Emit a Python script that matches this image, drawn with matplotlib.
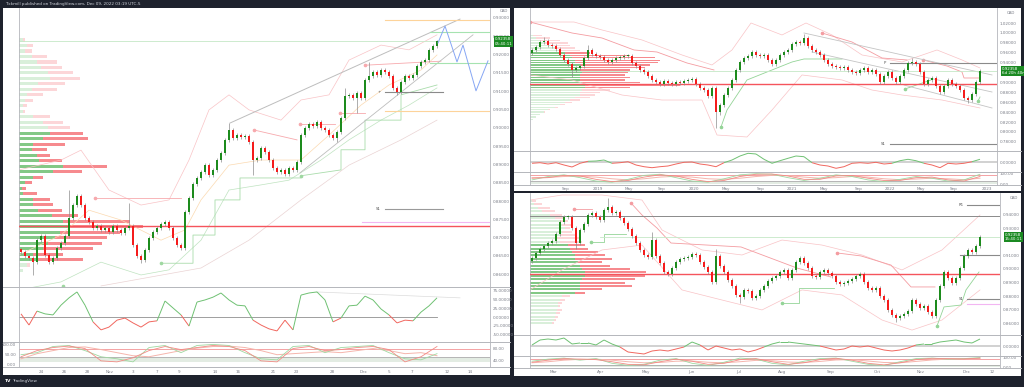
import numpy as np
import matplotlib.pyplot as plt
from matplotlib.collections import LineCollection
from matplotlib.patches import Rectangle
from matplotlib.lines import Line2D

W, H = 1024, 387
BG = '#1e222d'
GREEN = '#1d8b1d'
RED = '#f51c1c'
WICK = '#8d8d8d'
AXC = '#7b7e88'
SEP = '#b4b6bb'

# ---------------- data: left panel (4h) ----------------
left_close = [0.8661, 0.8650, 0.8644, 0.8633, 0.8693, 0.8704, 0.8653, 0.8633, 0.8644, 0.8672,
              0.8685, 0.8704, 0.8754, 0.8789, 0.8814, 0.8789, 0.8754, 0.8743, 0.8726, 0.8732,
              0.8721, 0.8726, 0.8715, 0.8732, 0.8721, 0.8713, 0.8726, 0.8732, 0.8680, 0.8650,
              0.8639, 0.8666, 0.8699, 0.8715, 0.8726, 0.8737, 0.8743, 0.8726, 0.8699, 0.8680,
              0.8672, 0.8770, 0.8808, 0.8847, 0.8863, 0.8879, 0.8898, 0.8871, 0.8885, 0.8912,
              0.8931, 0.8967, 0.8994, 0.8972, 0.8980, 0.8975, 0.8978, 0.8961, 0.8912, 0.8918,
              0.8945, 0.8934, 0.8912, 0.8890, 0.8879, 0.8885, 0.8874, 0.8890, 0.8885, 0.8907,
              0.8980, 0.9000, 0.9010, 0.9005, 0.9016, 0.9000, 0.8994, 0.8980, 0.8972, 0.8989,
              0.9027, 0.9087, 0.9090, 0.9081, 0.9095, 0.9081, 0.9131, 0.9142, 0.9152, 0.9144,
              0.9158, 0.9152, 0.9142, 0.9109, 0.9098, 0.9125, 0.9142, 0.9136, 0.9144, 0.9169,
              0.9180, 0.9185, 0.9213, 0.9224, 0.92358]
left_open0 = 0.8668
left_hi_idx = [12, 27, 52, 81, 87]
left_hi_val = [0.8830, 0.8795, 0.9013, 0.9109, 0.9180]
left_lo_idx = [3, 30, 58, 79, 84, 94]
left_lo_val = [0.8598, 0.8631, 0.8871, 0.8960, 0.9040, 0.9090]

left_osc = [9, -23, 17, 9, 6, 34, 55, 72, 34, -14, -37, -29, -9, -3, -17, -29, -14, -11,
            46, 26, 6, -26, 43, 49, 57, 69, 49, 34, 32, -9, -23, -34, -40, -9, -37, 63,
            69, 72, 49, -14, -3, 32, 34, 60, 49, 23, 6, -17, -9, -11, 14, 32, 55]

left_st_fast = [50, 60, 90, 95, 70, 40, 30, 15, 85, 95, 60, 95, 100, 95, 60, 30, 25, 90,
                95, 60, 85, 90, 95, 60, 30, 25, 55]
left_st_sig = [40, 70, 85, 92, 80, 20, 15, 35, 70, 90, 75, 85, 95, 90, 70, 20, 15, 80,
               90, 70, 75, 85, 90, 75, 15, 40, 90]
left_st_slow = [30, 55, 70, 85, 88, 75, 60, 45, 40, 55, 70, 82, 90, 92, 85, 70, 50, 55,
                60, 65, 60, 70, 80, 70, 55, 60, 45]

left_prof_lvl = [0.8610, 0.8625, 0.8640, 0.8655, 0.8670, 0.8685, 0.8700, 0.8715, 0.8730,
                 0.8745, 0.8760, 0.8775, 0.8790, 0.8805, 0.8820, 0.8835, 0.8850, 0.8865,
                 0.8880, 0.8895, 0.8910, 0.8925, 0.8940, 0.8955, 0.8970, 0.8985, 0.9000,
                 0.9015, 0.9030, 0.9045, 0.9060, 0.9075, 0.9090, 0.9105, 0.9120, 0.9135,
                 0.9150, 0.9165, 0.9180, 0.9195, 0.9210, 0.9225, 0.9240]
left_prof_buy = [4, 8, 19, 14, 24, 29, 36, 41, 48, 44, 33, 19, 14, 14, 4, 3, 6, 14, 34, 44,
                 20, 18, 13, 14, 24, 31, 29, 24, 14, 4, 4, 6, 8, 13, 19, 31, 29, 22, 18, 13,
                 6, 8, 4]
left_prof_tot = [4, 11, 64, 44, 74, 83, 88, 101, 124, 111, 59, 43, 34, 31, 18, 7, 13, 24, 63,
                 88, 43, 31, 28, 46, 69, 64, 51, 44, 31, 6, 8, 14, 24, 38, 46, 61, 54, 43, 38,
                 28, 13, 14, 6]
left_va = (0.8640, 0.8985)

left_up_x = [-0.5, 10, 15, 22, 30, 37, 42, 47, 52, 57, 65, 70, 77, 82, 90, 97, 104]
left_up_y = [0.8885, 0.8912, 0.8939, 0.8830, 0.8789, 0.8803, 0.8912, 0.9049, 0.9090, 0.9049,
             0.9021, 0.9076, 0.9090, 0.9185, 0.9226, 0.9213, 0.9254]
left_dn_x = [-0.5, 10, 20, 30, 37, 45, 52, 60, 67, 75, 82, 90, 97, 104]
left_dn_y = [0.8557, 0.8579, 0.8633, 0.8598, 0.8612, 0.8693, 0.8830, 0.8844, 0.8857, 0.8912,
             0.8967, 0.9021, 0.9062, 0.9109]
left_mid_x = [-0.5, 10, 17, 25, 35, 41, 45, 52, 60, 70, 77, 85, 92, 100, 104]
left_mid_y = [0.8653, 0.8707, 0.8775, 0.8748, 0.8693, 0.8721, 0.8803, 0.8898, 0.8912, 0.8912,
              0.8980, 0.9062, 0.9117, 0.9158, 0.9199]
left_ma_x = [20, 45, 57, 70, 82, 95, 104]
left_ma_y = [0.8568, 0.8617, 0.8693, 0.8803, 0.8898, 0.8967, 0.9021]
left_res_x = [[18.5, 40], [58.25, 69], [69.75, 78.5], [79.75, 86], [86, 105]]
left_res_y = [[0.8807, 0.8807], [0.8994, 0.8967], [0.9010, 0.9010], [0.9040, 0.9040], [0.9171, 0.9182]]
left_sup_x = [35, 43, 43, 48.5, 48.5, 54.75, 54.75, 70, 70, 80, 80, 86, 86, 95, 95, 104]
left_sup_y = [0.8630, 0.8630, 0.8707, 0.8707, 0.8803, 0.8803, 0.8863, 0.8863, 0.8869, 0.8885,
              0.8940, 0.8940, 0.9021, 0.9021, 0.9090, 0.9117]
left_proj_x = [104.25, 106, 109, 110.5, 113.75, 116.75]
left_proj_y = [0.9232, 0.9278, 0.9180, 0.9226, 0.9101, 0.9183]
left_dates_x = [5, 10.75, 16.5, 22.25, 28, 34, 39.5, 48.5, 54.25, 63, 68.75, 77.75, 85.75,
                92, 97.75, 106.5, 112.25]
left_dates = ['24', '26', '28', 'Nov', '3', '7', '9', '14', '16', '21', '23', '28', 'Dec',
              '5', '7', '12', '14']

# ---------------- data: right top (weekly) ----------------
wk_close = [0.9657, 0.9717, 0.9818, 0.9838, 0.9758, 0.9737, 0.9677, 0.9556, 0.9455, 0.9374,
            0.9253, 0.9293, 0.9333, 0.9495, 0.9657, 0.9576, 0.9535, 0.9515, 0.9455, 0.9414,
            0.9455, 0.9495, 0.9515, 0.9535, 0.9545, 0.9394, 0.9333, 0.9253, 0.9212, 0.9131,
            0.9051, 0.9010, 0.8970, 0.9030, 0.8990, 0.8970, 0.9010, 0.8990, 0.9030, 0.9051,
            0.9071, 0.8970, 0.8889, 0.8848, 0.8727, 0.8889, 0.8404, 0.8545, 0.8747, 0.8889,
            0.9051, 0.9253, 0.9414, 0.9495, 0.9535, 0.9616, 0.9556, 0.9535, 0.9556, 0.9455,
            0.9374, 0.9455, 0.9556, 0.9616, 0.9657, 0.9778, 0.9818, 0.9798, 0.9899, 0.9737,
            0.9657, 0.9616, 0.9556, 0.9455, 0.9374, 0.9333, 0.9313, 0.9293, 0.9313, 0.9253,
            0.9212, 0.9192, 0.9253, 0.9293, 0.9212, 0.9253, 0.9172, 0.9010, 0.9131, 0.9212,
            0.9091, 0.9010, 0.9131, 0.9253, 0.9394, 0.9414, 0.9374, 0.9212, 0.8970, 0.9051,
            0.9091, 0.8929, 0.8808, 0.8929, 0.9051, 0.8970, 0.8929, 0.8848, 0.8687, 0.8646,
            0.8768, 0.9010, 0.92358]
wk_open0 = 0.9600
wk_hi_idx = [3, 14, 68, 95]
wk_hi_val = [0.9920, 0.9750, 0.9980, 0.9495]
wk_lo_idx = [10, 46, 47, 109]
wk_lo_val = [0.9111, 0.8080, 0.8350, 0.8580]

wk_osc = [-0.13, -0.07, -0.2, -0.07, -0.3, -0.5, -0.13, 0.07, 0.1, 0.2, -0.13, -0.07, 0.03,
          -0.3, -0.47, -0.57, -0.47, -0.4, -0.2, -0.03, 0.0, -0.2, -0.3, -0.47, -0.07, 0.2,
          0.6, 0.87, 0.8, 0.27, -0.13, 0.13, 0.37, 0.6, 0.53, -0.07, -0.3, -0.4, -0.63,
          -0.47, -0.13, -0.07, -0.13, -0.03, -0.2, -0.13, 0.13, 0.27, 0.13, -0.13, -0.3,
          -0.57, -0.13, -0.2, -0.13, 0.03, 0.27]
wk_st_fast = [40, 70, 85, 60, 30, 20, 45, 80, 90, 60, 30, 20, 50, 85, 95, 90, 60, 35, 55, 85,
              70, 40, 25, 45, 70, 55, 30, 40, 90]
wk_st_sig = [55, 60, 80, 75, 45, 25, 35, 65, 85, 75, 45, 25, 35, 70, 90, 92, 75, 45, 45, 75,
             80, 55, 35, 35, 60, 65, 40, 30, 70]
wk_st_slow = [60, 62, 70, 72, 65, 50, 40, 50, 65, 72, 65, 50, 45, 55, 70, 80, 78, 65, 55, 60,
              70, 65, 50, 42, 48, 55, 50, 42, 55]

wk_prof_lvl = [0.825, 0.830, 0.835, 0.840, 0.845, 0.850, 0.855, 0.860, 0.865, 0.870, 0.875,
               0.880, 0.885, 0.890, 0.895, 0.900, 0.905, 0.910, 0.915, 0.920, 0.925, 0.930,
               0.935, 0.940, 0.945, 0.950, 0.955, 0.960, 0.965, 0.970, 0.975, 0.980, 0.985,
               0.990, 0.995]
wk_prof_buy = [3, 6, 10, 14, 18, 25, 30, 35, 40, 45, 50, 50, 52, 55, 55, 52, 50, 50, 50, 52,
               50, 52, 50, 45, 45, 42, 40, 35, 30, 25, 20, 15, 10, 6, 3]
wk_prof_tot = [3, 6, 10, 15, 20, 28, 35, 42, 50, 60, 65, 70, 80, 100, 150, 110, 95, 100, 95,
               98, 100, 115, 120, 128, 130, 125, 100, 60, 50, 45, 40, 38, 30, 20, 12]
wk_va = (0.890, 0.960)

wk_up_x = [-0.5, 10.5, 17.5, 27.5, 37.5, 45, 50, 54.75, 62.5, 68.5, 75, 82.5, 92.5, 101.25, 107.5, 112]
wk_up_y = [1.0222, 1.0222, 1.0061, 0.9859, 0.9556, 0.9354, 0.9657, 1.0202, 0.9960, 1.0202,
           0.9960, 0.9556, 0.9414, 0.9657, 0.9455, 0.9293]
wk_dn_x = [-0.5, 10, 22.5, 32.5, 42.5, 46.25, 53.75, 60, 67.5, 77.5, 85, 92.5, 102.5, 112]
wk_dn_y = [0.9152, 0.9051, 0.8747, 0.8646, 0.8646, 0.7939, 0.7899, 0.8444, 0.9152, 0.9051,
           0.8848, 0.8747, 0.8646, 0.8485]
wk_res_x = [[-0.5, 10, 17.5, 25.5, 31.25, 38.75, 45.5], [72.5, 80, 87.5, 93.75],
            [97.75, 103.75, 107.5, 108, 112]]
wk_res_y = [[1.0222, 1.0, 0.9899, 0.9657, 0.9616, 0.9394, 0.9253], [1.0, 0.9818, 0.9495, 0.9455],
            [0.9455, 0.9333, 0.9212, 0.9091, 0.9091]]
wk_sup_x = [[47.25, 48.75, 51.25, 53.75, 60, 65, 68, 77.5], [93.25, 99.75], [111.5, 112]]
wk_sup_y = [[0.8101, 0.8444, 0.8747, 0.9051, 0.9253, 0.9414, 0.9475, 0.9475], [0.8869, 0.9051],
            [0.8626, 0.8707]]
wk_chan_x = [[68, 115], [70, 115], [93, 115]]
wk_chan_y = [[1.0, 0.9152], [0.9616, 0.8808], [0.8949, 0.8485]]
wk_dates_x = [8.5, 16.5, 24.25, 32.5, 40.5, 48.5, 57.25, 65, 73, 81.75, 89.5, 97.25, 105.5, 113.75]
wk_dates = ['Sep', '2019', 'May', 'Sep', '2020', 'May', 'Sep', '2021', 'May', 'Sep', '2022',
            'May', 'Sep', '2023']

# ---------------- data: right bottom (daily) ----------------
d_close = [0.9081, 0.9118, 0.9147, 0.9169, 0.9191, 0.9206, 0.9257, 0.9346, 0.9382, 0.9385,
           0.9301, 0.9191, 0.9287, 0.9331, 0.9397, 0.9412, 0.9382, 0.9360, 0.9434, 0.9456,
           0.9412, 0.9419, 0.9375, 0.9338, 0.9294, 0.9243, 0.9191, 0.9140, 0.9103, 0.9088,
           0.9213, 0.9096, 0.9044, 0.8978, 0.8963, 0.9007, 0.9051, 0.9074, 0.9081, 0.9088,
           0.9110, 0.9103, 0.9051, 0.9015, 0.8978, 0.8904, 0.9096, 0.9022, 0.8978, 0.8919,
           0.8875, 0.8809, 0.8794, 0.8846, 0.8838, 0.8787, 0.8801, 0.8846, 0.8875, 0.8912,
           0.8934, 0.8949, 0.8978, 0.8993, 0.8934, 0.8993, 0.9051, 0.9081, 0.9044, 0.9007,
           0.8949, 0.8941, 0.8978, 0.8993, 0.8971, 0.8949, 0.8904, 0.8890, 0.8897, 0.8912,
           0.8926, 0.8949, 0.8963, 0.8904, 0.8860, 0.8846, 0.8860, 0.8801, 0.8772, 0.8699,
           0.8662, 0.8640, 0.8654, 0.8669, 0.8691, 0.8772, 0.8743, 0.8713, 0.8728, 0.8684,
           0.8654, 0.8772, 0.8875, 0.8978, 0.8934, 0.8897, 0.8934, 0.9007, 0.9096, 0.9140,
           0.9125, 0.9169, 0.92358]
d_open0 = 0.9060
d_hi_idx = [19, 30, 46]
d_hi_val = [0.9522, 0.9270, 0.9150]
d_lo_idx = [11, 52, 91]
d_lo_val = [0.9150, 0.8750, 0.8610]

d_osc = [0.1, 0.6, 0.7, 0.6, 0.8, 0.2, 0.3, 0.3, 0.1, 0.6, 0.2, -0.1, -0.6, -0.7, -0.8, -0.5,
         -0.4, -0.5, -0.3, -0.1, 0.4, 0.1, -0.4, 0.0, -0.2, -0.4, -0.3, -0.6, -0.4, -0.1, 0.2,
         0.4, 0.4, 0.3, 0.2, 0.1, 0.0, -0.2, -0.4, -0.3, 0.0, -0.1, 0.0, -0.2, -0.4, -0.5,
         -0.4, -0.2, 0.1, 0.2, 0.2, 0.4, 0.5, 0.6, 0.4, 0.3, 0.7]
d_st_fast = [60, 80, 90, 70, 85, 40, 20, 30, 70, 85, 40, 20, 50, 90, 80, 40, 25, 60, 85, 90,
             60, 30, 20, 55, 85, 90, 80, 85, 95]
d_st_sig = [50, 70, 85, 80, 75, 55, 30, 25, 55, 80, 60, 30, 40, 75, 85, 55, 30, 45, 75, 88,
            70, 40, 25, 45, 75, 88, 85, 82, 90]
d_st_slow = [45, 55, 70, 78, 80, 70, 55, 45, 48, 60, 62, 50, 45, 55, 68, 65, 52, 48, 58, 72,
             75, 62, 48, 45, 58, 72, 80, 82, 85]

d_prof_lvl = [0.8600, 0.8625, 0.8650, 0.8675, 0.8700, 0.8725, 0.8750, 0.8775, 0.8800, 0.8825,
              0.8850, 0.8875, 0.8900, 0.8925, 0.8950, 0.8975, 0.9000, 0.9025, 0.9050, 0.9075,
              0.9100, 0.9125, 0.9150, 0.9175, 0.9200, 0.9225, 0.9250, 0.9275, 0.9300, 0.9325,
              0.9350, 0.9375, 0.9400, 0.9425, 0.9450, 0.9475, 0.9500]
d_prof_buy = [22, 24, 25, 26, 27, 28, 28, 30, 32, 45, 50, 50, 50, 52, 55, 55, 52, 50, 48, 45,
              45, 42, 40, 38, 30, 25, 30, 32, 35, 32, 30, 25, 20, 12, 8, 4, 2]
d_prof_tot = [24, 26, 28, 30, 32, 30, 32, 35, 40, 55, 72, 102, 95, 105, 115, 116, 100, 80, 72,
              82, 75, 68, 58, 55, 52, 50, 45, 42, 40, 42, 38, 35, 32, 25, 20, 12, 6]
d_va = (0.8825, 0.9175)

d_up_x = [-0.5, 7.5, 17.5, 27.5, 32.5, 42.5, 52.5, 62.5, 72.5, 82.5, 92.5, 102.5, 112]
d_up_y = [0.9507, 0.9544, 0.9544, 0.9507, 0.9287, 0.9140, 0.9103, 0.9213, 0.9176, 0.9103,
          0.8993, 0.9140, 0.9397]
d_dn_x = [-0.5, 7.5, 17.5, 27.5, 37.5, 47.5, 57.5, 67.5, 77.5, 87.5, 95, 102.5, 112]
d_dn_y = [0.8846, 0.8993, 0.9140, 0.9176, 0.8846, 0.8772, 0.8699, 0.8846, 0.8809, 0.8625,
          0.8551, 0.8625, 0.8846]
d_res_x = [[10.5, 15], [24.75, 27.5, 31.25, 34.75, 52.25, 66.25, 74.75],
           [76.25, 82.25, 89.75, 94.75, 100.75]]
d_res_y = [[0.9441, 0.9441], [0.9485, 0.9397, 0.9301, 0.9191, 0.9162, 0.9007, 0.8941],
           [0.9118, 0.9096, 0.9029, 0.8868, 0.8868]]
d_sup_x = [[14.75, 18, 18, 23.5], [62.5, 66.75, 66.75, 75.5], [101.25, 103, 107.25, 108.5, 111.75]]
d_sup_y = [[0.9199, 0.9199, 0.9257, 0.9257], [0.8750, 0.8750, 0.8860, 0.8860],
           [0.8581, 0.8721, 0.8735, 0.8846, 0.8978]]
d_dates_x = [5.25, 17.25, 28.5, 39.75, 51.75, 62.5, 74.75, 86.25, 97.25, 108.75, 115]
d_dates = ['Mar', 'Apr', 'May', 'Jun', 'Jul', 'Aug', 'Sep', 'Oct', 'Nov', 'Dec', '12']

LAST = 0.92358


fig = plt.figure(figsize=(W / 100, H / 100), dpi=100, facecolor=BG)


def px_axes(x0, y0, x1, y1):
    ax = fig.add_axes([x0 / W, 1 - y1 / H, (x1 - x0) / W, (y1 - y0) / H])
    ax.set_facecolor('none')
    for s in ('top', 'bottom'):
        ax.spines[s].set_visible(False)
    for s in ('left', 'right'):
        ax.spines[s].set_color(SEP)
        ax.spines[s].set_linewidth(0.6)
    ax.tick_params(length=0, labelsize=3, colors=AXC, pad=2)
    ax.yaxis.tick_right()
    ax.set_xticks([])
    return ax


def panel_bg(x0, y0, x1, y1):
    fig.add_artist(Rectangle((x0 / W, 1 - y1 / H), (x1 - x0) / W, (y1 - y0) / H,
                             transform=fig.transFigure, facecolor='white', edgecolor='none', zorder=0))


def hsep(x0, x1, y):
    fig.add_artist(Line2D([x0 / W, x1 / W], [1 - y / H, 1 - y / H], transform=fig.transFigure,
                          color=SEP, lw=0.7, zorder=5))


def candles(ax, close, open0, wick, hi_idx, hi_val, lo_idx, lo_val, width):
    close = np.asarray(close)
    opens = np.concatenate([[open0], close[:-1]])
    x = np.arange(len(close))
    hi = np.maximum(opens, close) + wick
    lo = np.minimum(opens, close) - wick
    hi[np.array(hi_idx)] = hi_val
    lo[np.array(lo_idx)] = lo_val
    ax.vlines(x, lo, hi, color=WICK, lw=0.5, zorder=4)
    h = close - opens
    h = np.where(np.abs(h) < wick * 0.5, np.where(h >= 0, wick * 0.5, -wick * 0.5), h)
    cols = np.where(close >= opens, GREEN, RED)
    ax.bar(x, h, bottom=opens, width=width, color=cols, linewidth=0, zorder=5)


def profile(ax, lvl, buy, tot, va, step, axw):
    tr = ax.get_yaxis_transform()
    for v, b, t in zip(lvl, buy, tot):
        inside = va[0] <= v <= va[1]
        g = '#83c886' if inside else '#d9efda'
        r = '#f68a8e' if inside else '#fcd6d8'
        hgt = step * 0.58
        ax.add_patch(Rectangle((0, v - hgt / 2), b / axw, hgt, transform=tr, facecolor=g,
                               edgecolor='none', zorder=1))
        if t > b:
            ax.add_patch(Rectangle((b / axw, v - hgt / 2), (t - b) / axw, hgt, transform=tr,
                                   facecolor=r, edgecolor='none', zorder=1))


def sign_line(ax, x, y, lw):
    x = np.asarray(x, float)
    y = np.asarray(y, float)
    pts = np.column_stack([x, y])
    segs = np.stack([pts[:-1], pts[1:]], axis=1)
    mid = (y[:-1] + y[1:]) / 2
    cols = np.where(mid >= 0, '#6fc173', '#f1675f')
    ax.add_collection(LineCollection(segs, colors=cols, linewidths=lw, zorder=3))


def price_box(ax, text):
    ax.text(1.01, LAST, text, transform=ax.get_yaxis_transform(), fontsize=2.9, color='white',
            va='center', ha='left', clip_on=False, zorder=10, linespacing=1.1,
            bbox=dict(boxstyle='square,pad=0.25', fc='#1b8a22', ec='none'))


def stoch(ax, xs, fast, sig, slow, red_level, band):
    ax.axhspan(band[0], band[1], color='#e3ece3', lw=0, zorder=1)
    ax.axhline(red_level, color='#f4a2a4', lw=0.7, zorder=2)
    ax.axhline(band[1] + 5, color='#a8a8a8', lw=0.6, zorder=2)
    ax.plot(xs, slow, color='#f5b5ac', lw=0.7, zorder=3)
    ax.plot(xs, fast, color='#9fd8a1', lw=0.6, zorder=3)
    ax.plot(xs, sig, color='#f28b85', lw=0.6, zorder=3)


def seg_lines(ax, xs, ys, color, lw, dot=True):
    for sx, sy in zip(xs, ys):
        ax.plot(sx, sy, color=color, lw=lw, zorder=2)
        if dot:
            ax.plot(sx[0], sy[0], 'o', ms=1.6, color=color, zorder=2)


# ================= LEFT PANEL =================
panel_bg(3, 8, 510, 375)
axL = px_axes(19, 8, 490, 287)
axL.set_xlim(-0.5, 117.25)
axL.set_ylim(0.85651, 0.93273)
profile(axL, left_prof_lvl, left_prof_buy, left_prof_tot, left_va, 0.0015, 471)
axL.plot(left_up_x, left_up_y, color='#f9c3c6', lw=0.5, zorder=2)
axL.plot(left_dn_x, left_dn_y, color='#bfe3c0', lw=0.5, zorder=2)
axL.plot(left_mid_x, left_mid_y, color='#fbd9b0', lw=0.5, zorder=2)
axL.plot(left_ma_x, left_ma_y, color='#ead3d3', lw=0.5, zorder=2)
seg_lines(axL, left_res_x, left_res_y, '#f7a9ad', 0.6)
axL.plot(left_sup_x, left_sup_y, color='#a9dcab', lw=0.6, zorder=2)
axL.plot(10.5, 0.8568, 'o', ms=1.6, color='#9fd8a1', zorder=2)
axL.plot(35, 0.8630, 'o', ms=1.6, color='#9fd8a1', zorder=2)
axL.plot(70, 0.8869, 'o', ms=1.6, color='#9fd8a1', zorder=2)
axL.axhline(0.8732, color='#f5545c', lw=1.0, zorder=3)
axL.axhline(LAST, color='#c5e8c6', lw=0.6, zorder=2)
axL.plot([52.25, 109.75], [0.9013, 0.9297], color='#bdbdbd', lw=0.7, zorder=3)
axL.plot([69.75, 113], [0.8877, 0.9254], color='#bdbdbd', lw=0.6, zorder=3)
axL.plot([91, 117.25], [0.9295, 0.9295], color='#fdd39a', lw=0.8, zorder=3)
axL.plot([91, 117.25], [0.9046, 0.9046], color='#fdd39a', lw=0.8, zorder=3)
axL.plot([102.25, 117.25], [0.9262, 0.9262], color='#a6e3b0', lw=0.8, zorder=3)
axL.plot([102.25, 117.25], [0.9177, 0.9177], color='#a6e3b0', lw=0.8, zorder=3)
axL.plot([91, 105.5], [0.9098, 0.9098], color='#8a8a8a', lw=0.8, zorder=3)
axL.text(90, 0.9098, '+', fontsize=3, color='#555555', ha='right', va='center')
axL.plot([91, 105.5], [0.8778, 0.8778], color='#9a9a9a', lw=0.8, zorder=3)
axL.text(90, 0.8778, 'S1', fontsize=2.8, color='#555555', ha='right', va='center')
axL.plot([85.25, 117.25], [0.8743, 0.8743], color='#f2b6f2', lw=0.8, zorder=3)
candles(axL, left_close, left_open0, 0.0005, left_hi_idx, left_hi_val, left_lo_idx, left_lo_val, 0.6)
axL.plot(left_proj_x, left_proj_y, color='#86a6f4', lw=0.7, zorder=6)
axL.set_yticks(np.arange(0.86, 0.9301, 0.005))
axL.set_yticklabels(['%.5f' % v for v in np.arange(0.86, 0.9301, 0.005)])
axL.text(1.02, 0.985, 'CAD', transform=axL.transAxes, fontsize=2.8, color=AXC, clip_on=False)
price_box(axL, '0.92358\n05:40:11')

oscL = px_axes(19, 287, 490, 342)
oscL.set_xlim(-0.5, 117.25)
oscL.set_ylim(-71.8, 86.2)
oscL.plot([-0.5, 104], [0, 0], color='#8f8f8f', lw=0.6, zorder=2)
oscL.plot([74, 109.75], [72, 55], color='#dcdcdc', lw=0.5, zorder=2)
sign_line(oscL, np.arange(0, 105, 2), left_osc, 0.7)
oscL.set_yticks([75, 50, 25, 0, -25, -50])
oscL.set_yticklabels(['75.00000', '50.00000', '25.00000', '0.00000', '-25.00000', '-50.00000'])

stL = px_axes(19, 342, 490, 367)
stL.set_xlim(-0.5, 117.25)
stL.set_ylim(-10, 112)
stoch(stL, np.arange(0, 105, 4), left_st_fast, left_st_sig, left_st_slow, 80, (14, 33))
stL.yaxis.tick_left()
stL.set_yticks([100, 50, 0])
stL.set_yticklabels(['100.00', '50.00', '0.00'])
stL2 = stL.twinx()
stL2.set_ylim(20, 103.3)
stL2.set_yticks([80, 40])
stL2.set_yticklabels(['80.00', '40.00'])
stL2.tick_params(length=0, labelsize=3, colors=AXC, pad=2)
for s in stL2.spines.values():
    s.set_visible(False)
stL.set_xticks(left_dates_x)
stL.set_xticklabels(left_dates)
stL.tick_params(axis='x', length=0, labelsize=3, colors=AXC, pad=2.5)
hsep(3, 510, 287)
hsep(3, 510, 342)
hsep(3, 510, 367)

# ================= RIGHT TOP =================
panel_bg(514, 8, 1021, 191)
axW = px_axes(530, 8, 997, 151)
axW.set_xlim(-0.5, 116.25)
axW.set_ylim(0.7616, 1.0505)
profile(axW, wk_prof_lvl, wk_prof_buy, wk_prof_tot, wk_va, 0.005, 467)
axW.plot(wk_up_x, wk_up_y, color='#f9c3c6', lw=0.5, zorder=2)
axW.plot(wk_dn_x, wk_dn_y, color='#f9c3c6', lw=0.5, zorder=2)
seg_lines(axW, wk_res_x, wk_res_y, '#f49ca1', 0.6)
seg_lines(axW, wk_sup_x, wk_sup_y, '#94d497', 0.6)
for cx, cy in zip(wk_chan_x, wk_chan_y):
    axW.plot(cx, cy, color='#c4c4c4', lw=0.6, zorder=2)
axW.axhline(0.897, color='#f5545c', lw=1.0, zorder=3)
axW.axhline(LAST, color='#c5e8c6', lw=0.6, zorder=2)
axW.plot([89.5, 116.25], [0.9384, 0.9384], color='#8a8a8a', lw=0.8, zorder=3)
axW.text(88.5, 0.9384, 'P', fontsize=2.8, color='#555555', ha='right', va='center')
axW.plot([89.5, 116.25], [0.7758, 0.7758], color='#8a8a8a', lw=0.8, zorder=3)
axW.text(88.5, 0.7758, 'S1', fontsize=2.8, color='#555555', ha='right', va='center')
candles(axW, wk_close, wk_open0, 0.004, wk_hi_idx, wk_hi_val, wk_lo_idx, wk_lo_val, 0.62)
wt = [0.78, 0.80, 0.82, 0.84, 0.86, 0.88, 0.90, 0.94, 0.96, 0.98, 1.00, 1.02]
axW.set_yticks(wt)
axW.set_yticklabels(['%.5f' % v for v in wt])
axW.text(1.02, 0.955, 'CAD', transform=axW.transAxes, fontsize=2.8, color=AXC, clip_on=False)
price_box(axW, '0.92358\n6d 20h 40m')

oscW = px_axes(530, 151, 997, 172)
oscW.set_xlim(-0.5, 116.25)
oscW.set_ylim(-1.0, 1.1)
oscW.axhline(0, color='#c9c9c9', lw=1.2, zorder=2)
sign_line(oscW, np.arange(0, 113, 2), wk_osc, 0.7)
oscW.set_yticks([0])
oscW.set_yticklabels(['0.00000'])

stW = px_axes(530, 172, 997, 185)
stW.set_xlim(-0.5, 116.25)
stW.set_ylim(-5, 110)
stoch(stW, np.arange(0, 113, 4), wk_st_fast, wk_st_sig, wk_st_slow, 80, (8, 22))
stW.set_yticks([100, 0])
stW.set_yticklabels(['100.00', '0.00'])
stW.set_xticks(wk_dates_x)
stW.set_xticklabels(wk_dates)
stW.tick_params(axis='x', length=0, labelsize=3, colors=AXC, pad=1.5)
hsep(514, 1021, 151)
hsep(514, 1021, 172)
hsep(514, 1021, 185)

# ================= RIGHT BOTTOM =================
panel_bg(514, 193, 1021, 376)
axD = px_axes(530, 193, 1000, 335)
axD.set_xlim(-0.5, 117)
axD.set_ylim(0.85147, 0.95588)
profile(axD, d_prof_lvl, d_prof_buy, d_prof_tot, d_va, 0.0025, 470)
axD.plot(d_up_x, d_up_y, color='#f9c3c6', lw=0.5, zorder=2)
axD.plot(d_dn_x, d_dn_y, color='#f9c3c6', lw=0.5, zorder=2)
seg_lines(axD, d_res_x, d_res_y, '#f49ca1', 0.6)
seg_lines(axD, d_sup_x, d_sup_y, '#94d497', 0.6)
axD.axhline(0.8963, color='#f5545c', lw=1.0, zorder=3)
axD.axhline(0.939, color='#8a8a8a', lw=0.7, zorder=3)
axD.plot([17, 117], [LAST, LAST], color='#c5e8c6', lw=0.6, zorder=2)
axD.plot([108.75, 117], [0.9471, 0.9471], color='#8a8a8a', lw=0.8, zorder=3)
axD.text(108, 0.9471, 'R1', fontsize=2.8, color='#555555', ha='right', va='center')
axD.plot([107, 117], [0.9103, 0.9103], color='#8a8a8a', lw=0.8, zorder=3)
axD.plot([108.75, 117], [0.8779, 0.8779], color='#8a8a8a', lw=0.8, zorder=3)
axD.text(108, 0.8779, 'S1', fontsize=2.8, color='#555555', ha='right', va='center')
axD.plot([108.75, 117], [0.8743, 0.8743], color='#f2b6f2', lw=0.8, zorder=3)
candles(axD, d_close, d_open0, 0.0015, d_hi_idx, d_hi_val, d_lo_idx, d_lo_val, 0.62)
dt = [0.86, 0.87, 0.88, 0.89, 0.90, 0.91, 0.93, 0.94]
axD.set_yticks(dt)
axD.set_yticklabels(['%.5f' % v for v in dt])
axD.text(1.02, 0.96, 'CAD', transform=axD.transAxes, fontsize=2.8, color=AXC, clip_on=False)
price_box(axD, '0.92358\n15:40:11')

oscD = px_axes(530, 335, 1000, 356)
oscD.set_xlim(-0.5, 117)
oscD.set_ylim(-1.0, 1.1)
oscD.axhline(0, color='#c9c9c9', lw=1.2, zorder=2)
sign_line(oscD, np.arange(0, 113, 2), d_osc, 0.7)
oscD.set_yticks([0])
oscD.set_yticklabels(['0.00000'])

stD = px_axes(530, 356, 1000, 368)
stD.set_xlim(-0.5, 117)
stD.set_ylim(-5, 110)
stoch(stD, np.arange(0, 113, 4), d_st_fast, d_st_sig, d_st_slow, 80, (8, 22))
stD.set_yticks([100, 0])
stD.set_yticklabels(['100.00', '0.00'])
stD.set_xticks(d_dates_x)
stD.set_xticklabels(d_dates)
stD.tick_params(axis='x', length=0, labelsize=3, colors=AXC, pad=1.5)
hsep(514, 1021, 335)
hsep(514, 1021, 356)
hsep(514, 1021, 368)

# header / footer
fig.text(5 / W, 1 - 4 / H, 'Tickmill published on TradingView.com, Dec 09, 2022 03:19 UTC-5',
         color='#d1d4dc', fontsize=3, va='center', ha='left')
fig.text(5 / W, 1 - 381 / H, 'TV', color='white', fontsize=3.2, fontweight='bold', va='center')
fig.text(12 / W, 1 - 381 / H, 'TradingView', color='#d1d4dc', fontsize=3, va='center')

fig.savefig('out.png', dpi=100, facecolor=BG)
